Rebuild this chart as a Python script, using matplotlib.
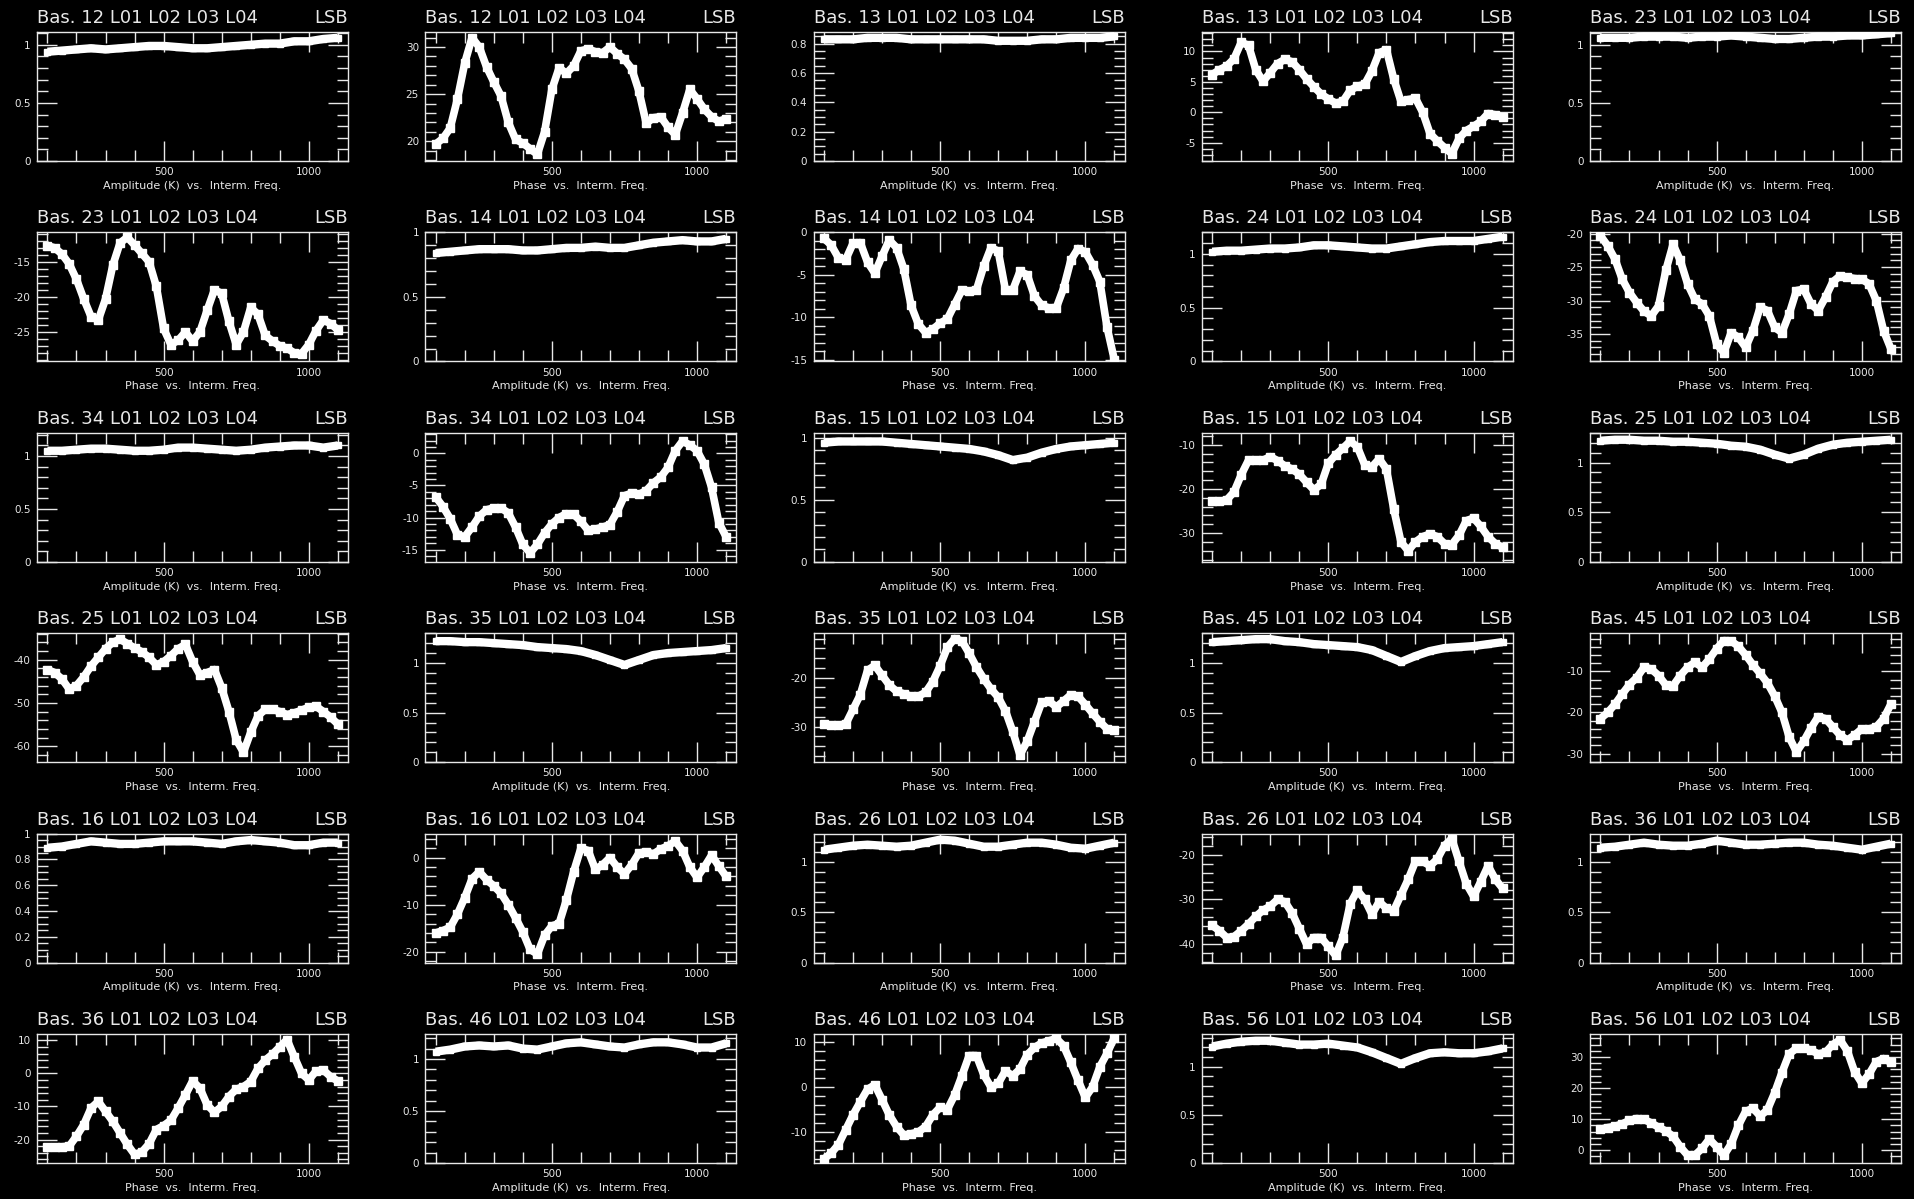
import matplotlib
matplotlib.use("Agg")
import matplotlib.pyplot as plt
from matplotlib.ticker import MultipleLocator, FormatStrFormatter

plt.rcParams['font.family'] = ['DejaVu Sans']
plt.rcParams['axes.unicode_minus'] = False

# IF channels (MHz)
freq_amp = [100, 150, 200, 250, 300, 350, 400, 450, 500, 550, 600,
            650, 700, 750, 800, 850, 900, 950, 1000, 1050, 1100]
freq_pha = [100, 125, 150, 175, 200, 225, 250, 275, 300, 325, 350,
            375, 400, 425, 450, 475, 500, 525, 550, 575, 600, 625,
            650, 675, 700, 725, 750, 775, 800, 825, 850, 875, 900,
            925, 950, 975, 1000, 1025, 1050, 1075, 1100]

# amplitudes (K)
amp_12 = [0.94, 0.95, 0.96, 0.97, 0.96, 0.97, 0.98, 0.99, 0.99, 0.98, 0.97,
          0.97, 0.98, 0.99, 1.00, 1.01, 1.01, 1.03, 1.03, 1.05, 1.06]
amp_13 = [0.83, 0.83, 0.83, 0.84, 0.84, 0.84, 0.83, 0.83, 0.83, 0.83, 0.83,
          0.83, 0.82, 0.82, 0.82, 0.83, 0.83, 0.84, 0.84, 0.84, 0.85]
amp_23 = [1.06, 1.06, 1.06, 1.07, 1.07, 1.07, 1.06, 1.07, 1.07, 1.08, 1.07,
          1.06, 1.05, 1.05, 1.06, 1.07, 1.07, 1.08, 1.08, 1.09, 1.10]
amp_14 = [0.84, 0.85, 0.86, 0.87, 0.87, 0.87, 0.86, 0.86, 0.87, 0.88, 0.88,
          0.89, 0.88, 0.88, 0.90, 0.92, 0.93, 0.94, 0.93, 0.93, 0.95]
amp_24 = [1.02, 1.03, 1.03, 1.04, 1.05, 1.05, 1.06, 1.08, 1.08, 1.07, 1.06,
          1.05, 1.05, 1.07, 1.09, 1.11, 1.12, 1.12, 1.12, 1.14, 1.16]
amp_34 = [1.05, 1.05, 1.06, 1.07, 1.07, 1.06, 1.05, 1.05, 1.06, 1.08, 1.08,
          1.07, 1.06, 1.05, 1.06, 1.08, 1.09, 1.10, 1.10, 1.08, 1.10]
amp_15 = [0.96, 0.97, 0.97, 0.97, 0.97, 0.96, 0.95, 0.94, 0.93, 0.92, 0.91,
          0.89, 0.86, 0.82, 0.84, 0.88, 0.91, 0.93, 0.94, 0.95, 0.96]
amp_25 = [1.22, 1.23, 1.23, 1.22, 1.22, 1.21, 1.21, 1.20, 1.19, 1.17, 1.16,
          1.13, 1.08, 1.04, 1.08, 1.14, 1.18, 1.20, 1.21, 1.22, 1.23]
amp_35 = [1.22, 1.22, 1.21, 1.21, 1.20, 1.19, 1.18, 1.16, 1.15, 1.14, 1.12,
          1.08, 1.03, 0.98, 1.03, 1.08, 1.10, 1.11, 1.12, 1.13, 1.15]
amp_45 = [1.21, 1.22, 1.23, 1.24, 1.24, 1.22, 1.21, 1.19, 1.18, 1.17, 1.16,
          1.13, 1.07, 1.01, 1.07, 1.12, 1.15, 1.16, 1.17, 1.19, 1.21]
amp_16 = [0.89, 0.90, 0.92, 0.94, 0.93, 0.92, 0.92, 0.93, 0.94, 0.94, 0.94,
          0.93, 0.92, 0.94, 0.95, 0.94, 0.93, 0.91, 0.91, 0.93, 0.93]
amp_26 = [1.12, 1.14, 1.16, 1.17, 1.16, 1.15, 1.16, 1.19, 1.22, 1.21, 1.18,
          1.15, 1.15, 1.17, 1.19, 1.19, 1.17, 1.14, 1.13, 1.16, 1.19]
amp_36 = [1.14, 1.15, 1.17, 1.19, 1.17, 1.16, 1.16, 1.18, 1.21, 1.19, 1.17,
          1.17, 1.18, 1.19, 1.19, 1.17, 1.16, 1.14, 1.12, 1.15, 1.18]
amp_46 = [1.07, 1.09, 1.12, 1.13, 1.12, 1.13, 1.10, 1.09, 1.12, 1.15, 1.16,
          1.14, 1.12, 1.11, 1.14, 1.16, 1.16, 1.14, 1.11, 1.11, 1.15]
amp_56 = [1.21, 1.24, 1.26, 1.27, 1.27, 1.25, 1.23, 1.23, 1.24, 1.22, 1.20,
          1.15, 1.09, 1.03, 1.09, 1.14, 1.15, 1.14, 1.14, 1.16, 1.19]

# phases (degrees)
pha_12 = [19.7, 20.3, 21.4, 24.5, 28.3, 31.0, 30.0, 27.9, 26.3, 24.8, 22.0,
          20.2, 19.8, 19.2, 18.6, 21.0, 25.5, 27.8, 27.2, 28.0, 29.6, 29.8,
          29.5, 29.4, 30.0, 29.3, 28.7, 27.7, 25.3, 21.9, 22.5, 22.6, 21.5,
          20.7, 23.0, 25.5, 24.5, 23.4, 22.6, 22.1, 22.4]
pha_13 = [6.2, 7.0, 7.6, 8.8, 11.5, 11.0, 7.0, 5.1, 6.5, 8.0, 8.7,
          8.3, 7.0, 5.5, 4.2, 3.0, 2.2, 1.5, 1.8, 3.6, 4.3, 4.6,
          6.8, 9.8, 10.3, 5.5, 1.8, 2.1, 2.3, 0.0, -3.5, -4.7, -5.8,
          -6.8, -4.3, -3.0, -2.3, -1.5, -0.2, -0.4, -0.8]
pha_23 = [-12.7, -13.0, -13.9, -15.3, -17.5, -20.3, -22.8, -23.3, -20.3, -15.5, -12.3,
          -11.5, -12.6, -13.8, -15.0, -18.5, -24.5, -26.8, -26.2, -25.0, -26.3, -25.0,
          -21.9, -19.0, -19.5, -23.5, -26.8, -25.0, -21.5, -22.5, -25.5, -26.3, -27.0,
          -27.3, -28.0, -28.1, -26.8, -24.8, -23.3, -23.8, -24.7]
pha_14 = [-0.7, -1.5, -3.0, -3.2, -1.3, -1.2, -3.5, -4.8, -2.8, -0.9, -1.8,
          -4.3, -8.6, -10.8, -11.8, -11.4, -10.7, -10.2, -8.5, -6.8, -6.9, -6.8,
          -4.0, -1.8, -2.2, -6.8, -6.8, -4.6, -5.0, -7.5, -8.6, -8.9, -8.9,
          -6.6, -3.3, -1.9, -2.3, -3.8, -5.8, -11.2, -15.0]
pha_24 = [-20.3, -21.8, -23.8, -26.8, -28.8, -30.3, -31.6, -32.3, -30.8, -25.5, -21.6,
          -24.0, -27.5, -29.8, -30.5, -32.3, -36.5, -37.8, -34.8, -35.5, -37.0, -34.5,
          -31.0, -31.5, -34.0, -34.8, -32.0, -28.5, -28.3, -30.5, -31.5, -29.5, -27.2,
          -26.3, -26.5, -26.7, -26.8, -27.5, -30.0, -34.5, -37.2]
pha_34 = [-6.8, -8.3, -10.2, -12.7, -13.0, -11.5, -9.8, -8.8, -8.5, -8.5, -9.3,
          -11.5, -14.2, -15.5, -14.2, -12.4, -11.0, -10.0, -9.4, -9.5, -10.6, -12.0,
          -11.8, -11.5, -11.1, -9.1, -6.6, -6.2, -6.4, -5.8, -4.6, -3.7, -2.2,
          0.4, 1.9, 1.3, 0.4, -1.7, -5.3, -10.8, -13.0]
pha_15 = [-22.8, -22.8, -22.5, -20.7, -16.8, -13.5, -13.5, -13.5, -12.7, -13.6, -14.8,
          -15.5, -16.7, -18.5, -20.2, -19.0, -14.2, -12.3, -10.8, -9.2, -10.5, -14.5,
          -15.0, -13.2, -15.5, -24.5, -32.0, -34.0, -32.0, -30.8, -30.2, -30.8, -32.4,
          -32.6, -30.5, -27.2, -26.6, -28.5, -30.8, -32.4, -33.2]
pha_25 = [-42.3, -43.0, -44.5, -46.8, -46.0, -44.0, -41.5, -39.5, -37.5, -36.0, -35.3,
          -36.3, -37.3, -38.2, -39.5, -41.2, -40.5, -39.1, -37.5, -36.5, -40.5, -43.5,
          -43.0, -42.3, -46.5, -52.0, -58.5, -61.4, -56.8, -53.0, -51.5, -51.5, -52.0,
          -52.7, -52.3, -51.7, -51.0, -50.8, -52.0, -53.3, -54.9]
pha_35 = [-29.5, -29.7, -29.7, -29.5, -26.5, -23.5, -18.5, -17.5, -19.5, -21.5, -22.8,
          -23.3, -23.8, -23.8, -23.0, -20.8, -17.6, -13.8, -12.0, -12.5, -15.0, -17.8,
          -20.2, -22.3, -24.0, -26.8, -31.0, -35.8, -33.0, -29.0, -25.0, -24.8, -26.0,
          -24.8, -23.5, -23.8, -25.5, -27.3, -29.0, -30.5, -30.8]
pha_45 = [-21.5, -20.0, -18.0, -15.5, -13.2, -11.5, -9.0, -9.4, -11.0, -13.3, -13.5,
          -11.0, -9.0, -7.8, -9.0, -7.0, -4.5, -2.5, -2.6, -3.9, -6.0, -8.4,
          -10.5, -12.8, -16.0, -20.0, -26.0, -29.6, -27.0, -23.8, -21.0, -21.5, -23.5,
          -25.5, -26.7, -25.5, -24.0, -24.0, -23.5, -21.5, -18.0]
pha_16 = [-16.0, -15.5, -14.8, -12.0, -8.5, -4.5, -3.0, -4.7, -6.0, -7.6, -10.0,
          -12.8, -15.8, -19.5, -20.5, -16.5, -14.5, -14.0, -9.0, -3.0, 2.0, 1.5,
          -2.5, -1.5, 0.0, -2.0, -3.5, -1.5, 1.0, 1.2, 0.8, 1.8, 2.5,
          3.5, 1.5, -2.0, -4.2, -2.0, 0.5, -1.8, -4.0]
pha_26 = [-35.8, -37.0, -38.5, -38.3, -37.0, -35.5, -33.8, -32.4, -31.5, -30.0, -30.5,
          -33.0, -36.5, -40.0, -38.5, -38.5, -40.5, -42.5, -38.5, -31.0, -28.0, -30.0,
          -33.3, -30.5, -32.0, -32.5, -29.0, -25.5, -21.5, -21.5, -22.5, -21.0, -18.0,
          -16.4, -21.5, -26.5, -29.3, -26.0, -22.5, -25.5, -27.5]
pha_36 = [-22.3, -22.3, -22.2, -22.0, -19.0, -15.5, -10.5, -8.5, -11.5, -14.5, -18.0,
          -21.5, -24.5, -23.8, -21.3, -17.0, -15.8, -14.2, -10.5, -6.5, -2.3, -4.5,
          -9.5, -11.8, -10.0, -7.0, -4.8, -4.0, -2.5, 1.5, 4.0, 5.8, 8.0,
          10.2, 5.0, 0.0, -2.0, 0.7, 1.0, -1.0, -2.3]
pha_46 = [-16.0, -14.7, -12.8, -9.5, -6.2, -3.3, -0.5, 0.5, -2.8, -6.2, -8.8,
          -10.7, -10.4, -10.0, -8.8, -6.2, -4.5, -5.0, -1.8, 2.5, 7.0, 7.0,
          2.8, 0.0, 0.8, 3.6, 2.5, 4.0, 7.2, 8.8, 9.8, 10.3, 10.8,
          9.2, 5.5, 1.5, -2.3, 0.0, 4.5, 7.5, 11.0]
pha_56 = [6.8, 7.3, 7.7, 8.5, 9.6, 10.2, 9.9, 8.8, 7.4, 6.2, 4.5,
          1.1, -1.6, -1.6, 0.6, 3.6, 1.1, -1.6, 2.0, 8.0, 12.5, 13.5,
          11.0, 13.0, 18.5, 25.0, 31.0, 32.8, 32.9, 32.2, 31.0, 31.5, 34.0,
          35.5, 32.0, 25.3, 21.6, 24.5, 28.5, 29.5, 28.3]

# (row, col, baseline, kind, values, ymin, ymax, major, minor)
panels = [
    (0, 0, '12', 'amp', amp_12, 0, 1.11, 0.5, 0.1),
    (0, 1, '12', 'pha', pha_12, 17.9, 31.6, 5, 1),
    (0, 2, '13', 'amp', amp_13, 0, 0.88, 0.2, 0.05),
    (0, 3, '13', 'pha', pha_13, -8.0, 13.2, 5, 1),
    (0, 4, '23', 'amp', amp_23, 0, 1.11, 0.5, 0.1),
    (1, 0, '23', 'pha', pha_23, -29.2, -10.8, 5, 1),
    (1, 1, '14', 'amp', amp_14, 0, 1.0, 0.5, 0.1),
    (1, 2, '14', 'pha', pha_14, -15.2, 0.0, 5, 1),
    (1, 3, '24', 'amp', amp_24, 0, 1.2, 0.5, 0.1),
    (1, 4, '24', 'pha', pha_24, -39.1, -19.8, 5, 1),
    (2, 0, '34', 'amp', amp_34, 0, 1.22, 0.5, 0.1),
    (2, 1, '34', 'pha', pha_34, -16.9, 3.2, 5, 1),
    (2, 2, '15', 'amp', amp_15, 0, 1.04, 0.5, 0.1),
    (2, 3, '15', 'pha', pha_15, -36.5, -7.3, 10, 2),
    (2, 4, '25', 'amp', amp_25, 0, 1.3, 0.5, 0.1),
    (3, 0, '25', 'pha', pha_25, -63.7, -33.9, 10, 2),
    (3, 1, '35', 'amp', amp_35, 0, 1.3, 0.5, 0.1),
    (3, 2, '35', 'pha', pha_35, -37.3, -10.9, 10, 2),
    (3, 3, '45', 'amp', amp_45, 0, 1.3, 0.5, 0.1),
    (3, 4, '45', 'pha', pha_45, -32.1, -0.7, 10, 2),
    (4, 0, '16', 'amp', amp_16, 0, 1.0, 0.2, 0.05),
    (4, 1, '16', 'pha', pha_16, -22.3, 5.1, 10, 2),
    (4, 2, '26', 'amp', amp_26, 0, 1.28, 0.5, 0.1),
    (4, 3, '26', 'pha', pha_26, -44.1, -15.3, 10, 2),
    (4, 4, '36', 'amp', amp_36, 0, 1.28, 0.5, 0.1),
    (5, 0, '36', 'pha', pha_36, -27.1, 11.9, 10, 2),
    (5, 1, '46', 'amp', amp_46, 0, 1.24, 0.5, 0.1),
    (5, 2, '46', 'pha', pha_46, -16.9, 11.8, 10, 2),
    (5, 3, '56', 'amp', amp_56, 0, 1.34, 0.5, 0.1),
    (5, 4, '56', 'pha', pha_56, -4.1, 37.4, 10, 2),
]

W, H = 1914, 1199
fig = plt.figure(figsize=(W / 100, H / 100), dpi=100, facecolor='black')
fg = '#e8e8e8'

for row, col, bas, kind, vals, y0, y1, major, minor in panels:
    left = 37 + 388.25 * col
    top = 32 + 200.4 * row
    ax = fig.add_axes([left / W, 1 - (top + 129) / H, 311 / W, 129 / H])
    ax.set_facecolor('black')
    for s in ax.spines.values():
        s.set_color(fg)
        s.set_linewidth(1.0)

    if kind == 'amp':
        ax.plot(freq_amp, vals, color='white', lw=6, marker='s', ms=5,
                solid_capstyle='butt', zorder=3)
        xlabel = 'Amplitude (K)  vs.  Interm. Freq.'
    else:
        # fitted curve under the measured points
        ax.plot(freq_pha, vals, color='red', lw=1.0, ls='--', zorder=2)
        ax.plot(freq_pha, vals, color='white', lw=5.5, marker='s', ms=6,
                solid_capstyle='butt', zorder=3)
        xlabel = 'Phase  vs.  Interm. Freq.'

    ax.set_xlim(64, 1135)
    ax.set_ylim(y0, y1)
    ax.xaxis.set_major_locator(MultipleLocator(500))
    ax.xaxis.set_minor_locator(MultipleLocator(100))
    ax.yaxis.set_major_locator(MultipleLocator(major))
    ax.yaxis.set_minor_locator(MultipleLocator(minor))
    ax.xaxis.set_major_formatter(FormatStrFormatter('%g'))
    ax.yaxis.set_major_formatter(FormatStrFormatter('%g'))
    ax.tick_params(which='both', direction='in', top=True, right=True,
                   colors=fg, labelsize=7.5, width=1.0)
    ax.tick_params(which='major', length=14.5, pad=4.5)
    ax.tick_params(which='minor', length=8)
    ax.set_xlabel(xlabel, color=fg, fontsize=8, labelpad=2.5)

    ax.annotate('Bas. %s L01 L02 L03 L04' % bas, xy=(0, 1), xycoords='axes fraction',
                xytext=(0, 6.5), textcoords='offset points',
                ha='left', va='baseline', color=fg, fontsize=13)
    ax.annotate('LSB', xy=(1, 1), xycoords='axes fraction',
                xytext=(0, 6.5), textcoords='offset points',
                ha='right', va='baseline', color=fg, fontsize=13)

fig.savefig('out.png', dpi=100, facecolor='black')
